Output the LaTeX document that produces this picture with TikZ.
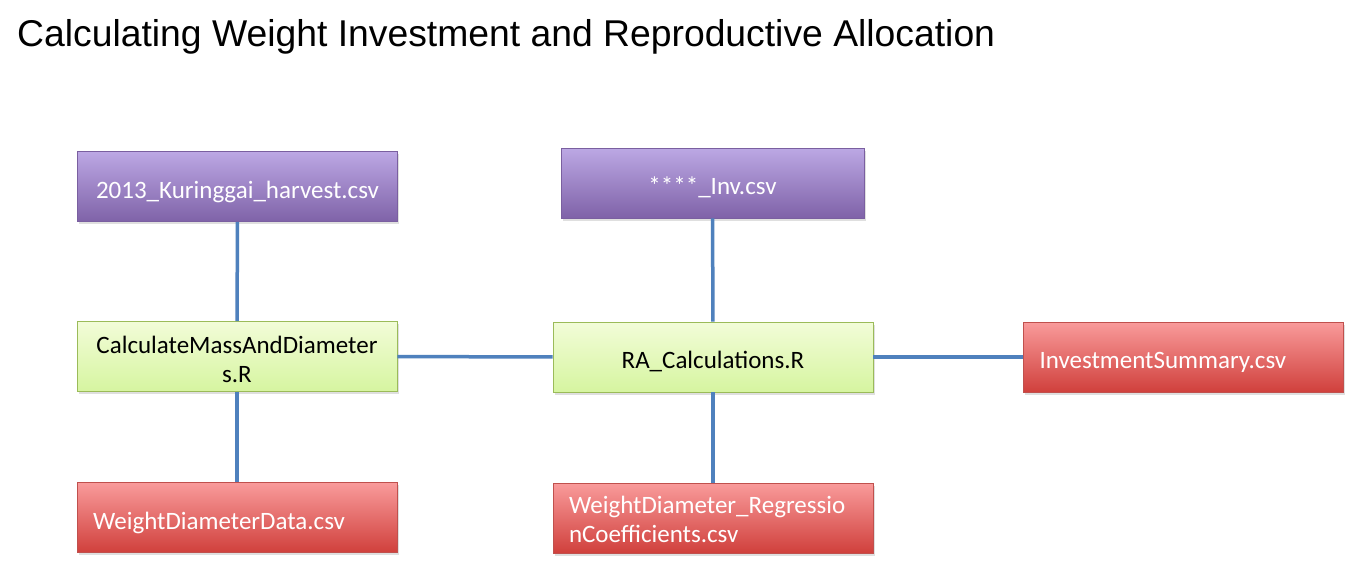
\documentclass[tikz,border=0pt]{standalone}
\usepackage{fontspec}
\setmainfont{Carlito}
\newfontfamily\titlefont{Liberation Sans}
\usetikzlibrary{shadows}
\definecolor{linkblue}{HTML}{4F81BD}
\definecolor{purpletop}{HTML}{BCA8E4}
\definecolor{purplebot}{HTML}{7F62A8}
\definecolor{purpleedge}{HTML}{7A5FA0}
\definecolor{greentop}{HTML}{F2FCD8}
\definecolor{greenbot}{HTML}{D6F5A0}
\definecolor{greenedge}{HTML}{9BBB59}
\definecolor{redtop}{HTML}{F99B9B}
\definecolor{redbot}{HTML}{D0403C}
\definecolor{rededge}{HTML}{C0504D}
\tikzset{
  filebox/.style={draw, line width=0.8pt, minimum width=320pt, minimum height=70pt,
    inner sep=0pt, font=\fontsize{25}{29}\selectfont, text height=26pt, text depth=3pt,
    drop shadow={opacity=0.25, shadow xshift=1.5pt, shadow yshift=-2.5pt}},
  inbox/.style={filebox, draw=purpleedge, top color=purpletop, bottom color=purplebot,
    text=white, align=center},
  scriptbox/.style={filebox, draw=greenedge, top color=greentop, bottom color=greenbot,
    text=black, align=center},
  outbox/.style={filebox, draw=rededge, top color=redtop, bottom color=redbot,
    text=white, align=left, text width=288pt},
  link/.style={draw=linkblue, line width=3.5pt}
}
\begin{document}
\begin{tikzpicture}[x=1pt, y=-1pt]
  \useasboundingbox[fill=white] (0,0) rectangle (1352,565);
  \node[anchor=base west, inner sep=0pt, font=\titlefont\fontsize{37.3}{42}\selectfont] (title) at (17,46)
    {Calculating Weight Investment and Reproductive Allocation};
  % inputs
  \node[inbox] (harvest) at (237.5,186.5) {2013\_Kuringgai\_harvest.csv};
  \node[inbox, minimum width=303pt] (inv) at (712.5,183) {****\_Inv.csv};
  % scripts
  \node[scriptbox, text height=54pt] (massdiam) at (237,356.5) {CalculateMassAndDiameter\\s.R};
  \node[scriptbox] (racalc) at (713,357) {RA\_Calculations.R};
  % outputs
  \node[outbox] (invsum) at (1183.5,357) {InvestmentSummary.csv};
  \node[outbox] (wddata) at (237,517.5) {WeightDiameterData.csv};
  \node[outbox, text height=3pt, text depth=13pt] (wdcoef) at (713,518) {WeightDiameter\_Regressio\\nCoefficients.csv};
  % links
  \draw[link] (harvest) -- (massdiam);
  \draw[link] (massdiam) -- (wddata);
  \draw[link] (massdiam) -- (racalc);
  \draw[link] (inv) -- (racalc);
  \draw[link] (racalc) -- (invsum);
  \draw[link] (racalc) -- (wdcoef);
\end{tikzpicture}
\end{document}
